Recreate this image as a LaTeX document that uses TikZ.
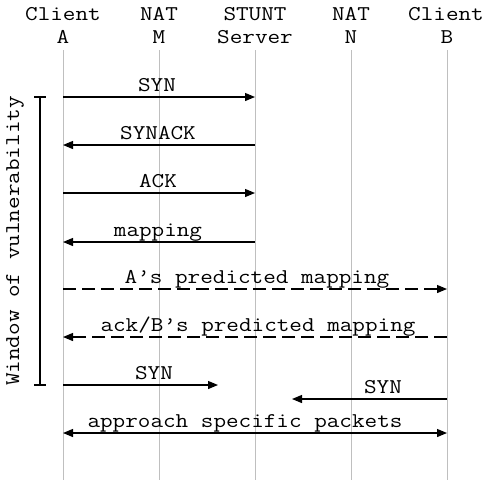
\documentclass[tikz,border=0pt]{standalone}
\usepackage{fontspec}
\newfontfamily\monof[FakeStretch=1.165]{Latin Modern Mono}
\usetikzlibrary{arrows.meta}
\begin{document}
\begin{tikzpicture}[x=1pt,y=-1pt,
  lbl/.style={font=\monof\fontsize{21}{24}\selectfont, inner sep=0pt, anchor=base},
  life/.style={draw=black!25, line width=1pt},
  msg/.style={draw=black, line width=1.2pt, -{Triangle[length=10pt,width=8pt]}},
  dmsg/.style={msg, dash pattern=on 13pt off 6pt},
  bimsg/.style={draw=black, line width=1.2pt, {Triangle[length=10pt,width=8pt]}-{Triangle[length=10pt,width=8pt]}}
]
\useasboundingbox (0,0) rectangle (485,480);
% headers
\node[lbl] (hA1) at (63,20) {Client};
\node[lbl] (hA2) at (63,43) {A};
\node[lbl] (hM1) at (159,20) {NAT};
\node[lbl] (hM2) at (159,43) {M};
\node[lbl] (hS1) at (255,20) {STUNT};
\node[lbl] (hS2) at (255,43) {Server};
\node[lbl] (hN1) at (351,20) {NAT};
\node[lbl] (hN2) at (351,43) {N};
\node[lbl] (hB1) at (446,20) {Client};
\node[lbl] (hB2) at (447,43) {B};
% lifelines
\foreach \n/\x in {A/63,M/159,S/255,N/351,B/447}{
  \coordinate (t\n) at (\x,50);
  \coordinate (b\n) at (\x,480);
  \draw[life] (t\n) -- (b\n);
}
% message points
\coordinate (A1) at (63,97);  \coordinate (S1) at (255,97);
\coordinate (A2) at (63,145); \coordinate (S2) at (255,145);
\coordinate (A3) at (63,193); \coordinate (S3) at (255,193);
\coordinate (A4) at (63,242); \coordinate (S4) at (255,242);
\coordinate (A5) at (63,289); \coordinate (B5) at (447,289);
\coordinate (A6) at (63,337); \coordinate (B6) at (447,337);
\coordinate (A7) at (63,385); \coordinate (E7) at (218,385);
\coordinate (B8) at (447,399); \coordinate (E8) at (292,399);
\coordinate (A9) at (63,433); \coordinate (B9) at (447,433);

\draw[msg] (A1) -- (S1);
\node[lbl] (l1) at (157,91) {SYN};
\draw[msg] (S2) -- (A2);
\node[lbl] (l2) at (158,139) {SYNACK};
\draw[msg] (A3) -- (S3);
\node[lbl] (l3) at (158,187) {ACK};
\draw[msg] (S4) -- (A4);
\node[lbl] (l4) at (158,236) {mapping};
\draw[dmsg] (A5) -- (B5);
\node[lbl] (l5) at (257,283) {A’s predicted mapping};
\draw[dmsg] (B6) -- (A6);
\node[lbl] (l6) at (258,331) {ack/B’s predicted mapping};
\draw[msg] (A7) -- (E7);
\node[lbl] (l7) at (154,379) {SYN};
\draw[msg] (B8) -- (E8);
\node[lbl] (l8) at (383,393) {SYN};
\draw[bimsg] (A9) -- (B9);
\node[lbl] (l9) at (245,427) {approach specific packets};

% window bracket
\coordinate (w1) at (40,97);
\coordinate (w2) at (40,385);
\draw[line width=1.2pt] (w1) -- (w2);
\draw[line width=1.2pt] ([xshift=-6pt]w1) -- ([xshift=6pt]w1);
\draw[line width=1.2pt] ([xshift=-6pt]w2) -- ([xshift=6pt]w2);
\node[font=\monof\fontsize{21}{24}\selectfont, inner sep=0pt, rotate=90] (win) at (15,241) {Window of vulnerability};
\end{tikzpicture}
\end{document}
